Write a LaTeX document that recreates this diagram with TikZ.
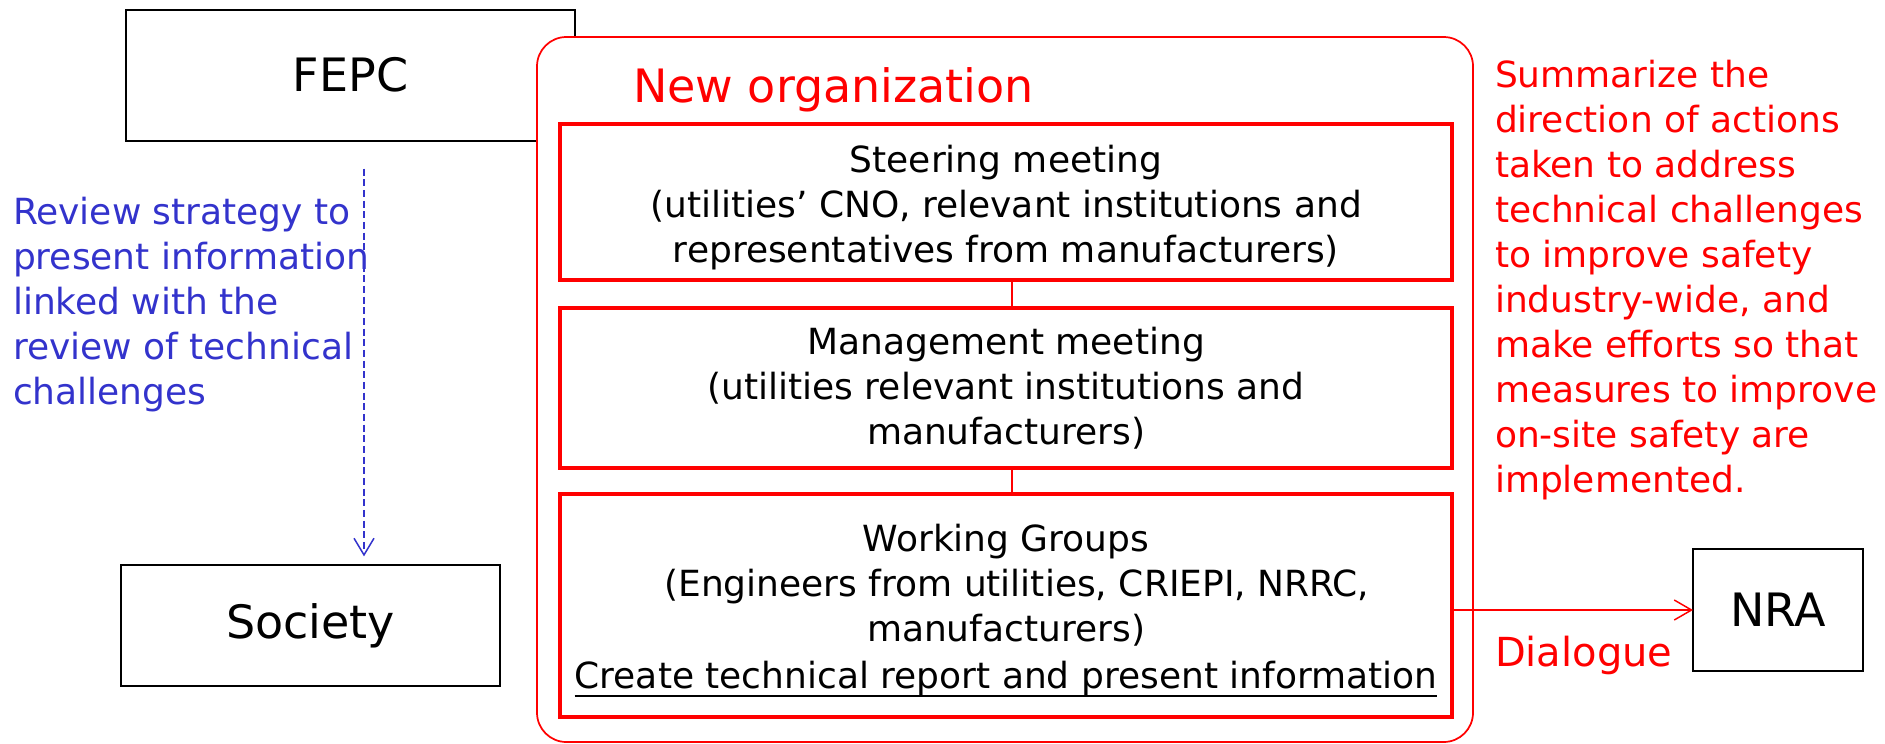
\documentclass[tikz,border=0pt]{standalone}
\usepackage{fontspec}
\setmainfont{DejaVu Sans}
\usetikzlibrary{arrows.meta}
\definecolor{orgred}{RGB}{255,0,0}
\definecolor{noteblue}{RGB}{51,51,204}
% underline drawn as a rule of a chosen weight
\newcommand\heavyul[1]{\setbox0\hbox{#1}\rlap{\rule[-6pt]{\wd0}{1.5pt}}\box0}
% invisible strut that lowers a centred block of lines
\newcommand\lowerby[1]{\rule{0pt}{\dimexpr 20.5pt+#1\relax}}

\begin{document}
\begin{tikzpicture}[x=0.75pt,y=-0.75pt,
  every node/.style={inner sep=0pt,outer sep=0pt},
  bigfont/.style={font=\fontsize{34.5pt}{40pt}\selectfont},
  bodyfont/.style={font=\fontsize{27pt}{33.75pt}\selectfont},
  plainbox/.style={draw=black,line width=1.5pt,bigfont},
  stagebox/.style={draw=orgred,line width=3pt,minimum width=669pt,align=center,bodyfont},
  orgframe/.style={draw=orgred,fill=white,line width=1.3pt,rounded corners=22pt,minimum width=702pt,minimum height=528.75pt},
  link/.style={draw=orgred,line width=1.1pt},
  talk/.style={draw=orgred,line width=1.1pt,-{Straight Barb[length=13pt,width=15pt,line width=1.1pt]}},
  review/.style={draw=noteblue,line width=1.1pt,dash pattern=on 5.25pt off 2.75pt,-{Straight Barb[length=12.5pt,width=15pt,line width=1.1pt]}},
]
\useasboundingbox (0,0) rectangle (1885,743);

% outside parties (FEPC lies partly behind the organization frame)
\node[plainbox,minimum width=336.75pt,minimum height=98.25pt] (fepc) at (350.5,75) {FEPC};
\node[plainbox,minimum width=284.25pt,minimum height=90.75pt] (society) at (310.5,625.5) {Society};
\node[plainbox,minimum width=127.5pt,minimum height=91.5pt] (nra) at (1778,610) {NRA};

% the new organization and its three layers
\node[orgframe] (neworg) at (1005,389.5) {};
\node[anchor=base west,text=orgred,bigfont] (orgtitle) at (633,102) {New organization};

\node[stagebox,minimum height=117pt] (steer) at (1006,202)
  {\lowerby{9pt}Steering meeting\\(utilities’ CNO, relevant institutions and\\representatives from manufacturers)};
\node[stagebox,minimum height=120pt] (manage) at (1006,388)
  {Management meeting\\(utilities relevant institutions and\\manufacturers)};
\node[stagebox,minimum height=167.25pt] (work) at (1006,605.5)
  {\lowerby{7pt}Working Groups\\\hspace*{0.6em}(Engineers from utilities, CRIEPI, NRRC,\\manufacturers)\\[2pt]\heavyul{Create technical report and present information}};

\draw[link] ([xshift=4.5pt]steer.south) -- ([xshift=4.5pt]manage.north);
\draw[link] ([xshift=4.5pt]manage.south) -- ([xshift=4.5pt]work.north);

% dialogue with the regulator
\coordinate (talkrow) at (0,610);
\draw[talk] (work.east |- talkrow) -- (nra.west |- talkrow);
\node[anchor=base west,text=orgred,font=\fontsize{30pt}{36pt}\selectfont] (dialogue) at (1495,666) {Dialogue};

% information to society
\coordinate (revx) at (364,0);
\draw[review,shorten <=21pt,shorten >=6.5pt] (fepc.south -| revx) -- (society.north -| revx);
\node[anchor=base west,align=left,text=noteblue,bodyfont] (reviewnote) at (13,404)
  {Review strategy to\\present information\\linked with the\\review of technical\\challenges};

% role of the organization
\node[anchor=base west,align=left,text=orgred,bodyfont] (rolenote) at (1495,492)
  {Summarize the\\direction of actions\\taken to address\\technical challenges\\to improve safety\\industry-wide, and\\make efforts so that\\measures to improve\\on-site safety are\\implemented.};
\end{tikzpicture}
\end{document}
